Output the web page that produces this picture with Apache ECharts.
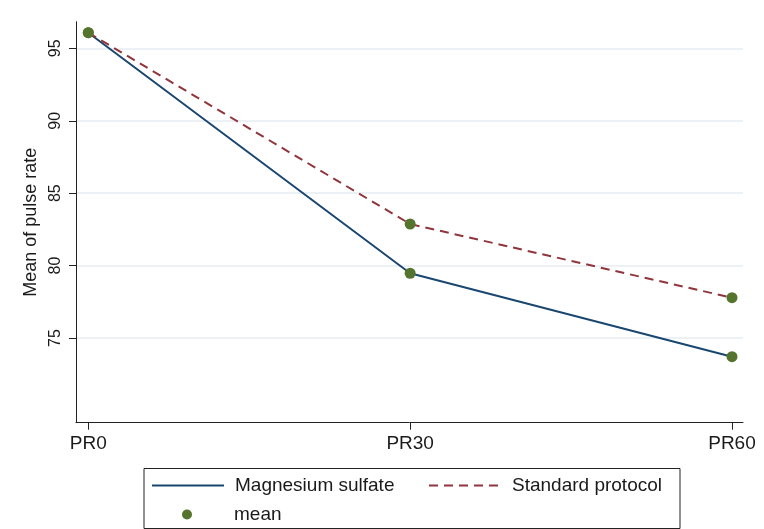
<!DOCTYPE html>
<html>
<head>
<meta charset="utf-8">
<script src="https://cdn.jsdelivr.net/npm/echarts@6/dist/echarts.min.js"></script>
<style>
html,body{margin:0;padding:0;background:#fff;}
#chart{width:764px;height:529px;}
</style>
</head>
<body>
<div id="chart"></div>
<script>
const categories = ['PR0', 'PR30', 'PR60'];
const magnesium = [96.08, 79.47, 73.71];
const standard = [96.08, 82.87, 77.78];
const yTicks = [75, 80, 85, 90, 95];

const FONT = '"Liberation Sans", Arial, sans-serif';
const toXY = arr => arr.map((v, i) => [i, v]);
const meanData = toXY(magnesium).concat(toXY(standard));

const chart = echarts.init(document.getElementById('chart'), null, {renderer: 'canvas'});
chart.setOption({
  animation: false,
  backgroundColor: '#ffffff',
  grid: {left: 76, right: 21, top: 21.7, bottom: 106.3, containLabel: false},
  xAxis: {
    type: 'value',
    min: -0.0382,
    max: 2.0342,
    axisLine: {show: true, onZero: false, lineStyle: {color: '#222', width: 1}},
    axisTick: {show: true, length: 7, customValues: [0, 1, 2], lineStyle: {color: '#222'}},
    axisLabel: {
      customValues: [0, 1, 2],
      formatter: v => categories[Math.round(v)],
      color: '#1a1a1a', fontFamily: FONT, fontSize: 19, margin: 12
    },
    splitLine: {show: false}
  },
  yAxis: {
    type: 'value',
    min: 69.15,
    max: 96.84,
    name: 'Mean of pulse rate',
    nameLocation: 'middle',
    nameGap: 31,
    nameRotate: 90,
    nameTextStyle: {color: '#1a1a1a', fontFamily: FONT, fontSize: 18},
    axisLine: {show: true, onZero: false, lineStyle: {color: '#222', width: 1}},
    axisTick: {show: true, length: 7, customValues: yTicks, lineStyle: {color: '#222'}},
    axisLabel: {
      customValues: yTicks,
      rotate: 90,
      color: '#1a1a1a', fontFamily: FONT, fontSize: 16, margin: 12
    },
    splitLine: {show: true, lineStyle: {color: '#e4edf0', width: 1.5}}
  },
  legend: [
    {
      data: ['Magnesium sulfate'], left: 151, top: 476, padding: 0, itemWidth: 72, itemHeight: 16, itemGap: 0,
      itemStyle: {opacity: 0},
      textStyle: {fontFamily: FONT, fontSize: 19, color: '#1a1a1a', padding: [0, 0, 0, 6]}, selectedMode: false
    },
    {
      data: ['Standard protocol'], left: 428, top: 476, padding: 0, itemWidth: 72, itemHeight: 16, itemGap: 0,
      itemStyle: {opacity: 0},
      textStyle: {fontFamily: FONT, fontSize: 19, color: '#1a1a1a', padding: [0, 0, 0, 6]}, selectedMode: false
    },
    {
      data: [{name: 'mean', icon: 'circle'}], left: 182, top: 505, padding: 0, itemWidth: 10, itemHeight: 10, itemGap: 0,
      itemStyle: {opacity: 1},
      textStyle: {fontFamily: FONT, fontSize: 19, color: '#1a1a1a', padding: [0, 0, 0, 37]}, selectedMode: false
    }
  ],
  graphic: [{
    type: 'rect', left: 141.5, top: 466,
    shape: {width: 536, height: 60},
    style: {fill: 'none', stroke: '#222', lineWidth: 1},
    z: 0, silent: true
  }],
  series: [
    {
      name: 'Magnesium sulfate', type: 'line', data: toXY(magnesium),
      symbol: 'none', lineStyle: {color: '#1a476f', width: 2}, itemStyle: {color: '#1a476f'}, z: 2
    },
    {
      name: 'Standard protocol', type: 'line', data: toXY(standard),
      symbol: 'none', lineStyle: {color: '#90353b', width: 2, type: [9, 6]}, itemStyle: {color: '#90353b'}, z: 2
    },
    {
      name: 'mean', type: 'scatter', data: meanData,
      symbol: 'circle', symbolSize: 11, itemStyle: {color: '#55752f', opacity: 1}, z: 3
    }
  ]
});
</script>
</body>
</html>
